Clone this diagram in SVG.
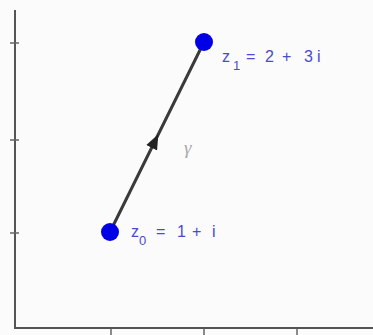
<svg xmlns="http://www.w3.org/2000/svg" width="373" height="335" viewBox="0 0 373 335">
<defs>
<style>
.axis{stroke:#555;stroke-width:2;fill:none}
.tick{stroke:#666;stroke-width:1.5}
.pt{fill:#0000e6}
.lbl{font-family:"Liberation Sans",Arial,sans-serif;font-size:16px;fill:#4a4ad0}
.sub{font-size:13px}
.edge{stroke:#3a3a3a;stroke-width:3;fill:none}
</style>
<marker id="mid" viewBox="0 0 10 10" refX="5" refY="5" markerWidth="5" markerHeight="5" orient="auto" markerUnits="strokeWidth">
<path d="M0,1 L10,5 L0,9 z" fill="#222"/>
</marker>
</defs>
<rect width="373" height="335" fill="#fbfbfb"/>
<g id="axes">
<path class="axis" d="M15,10 V328 H373"/>
<line class="tick" x1="10" y1="43" x2="19" y2="43"/>
<line class="tick" x1="10" y1="140" x2="19" y2="140"/>
<line class="tick" x1="10" y1="233" x2="19" y2="233"/>
<line class="tick" x1="111" y1="329" x2="111" y2="335"/>
<line class="tick" x1="204" y1="329" x2="204" y2="335"/>
<line class="tick" x1="297" y1="329" x2="297" y2="335"/>
</g>
<g id="connectors">
<path class="edge" d="M110,232 L155,141 L204,42" marker-mid="url(#mid)"/>
<text x="184" y="154" font-family="Liberation Serif,serif" font-size="19" font-style="italic" fill="#aaa">γ</text>
</g>
<g id="z0">
<circle class="pt" cx="110" cy="232" r="9"/>
<text class="lbl" y="237"><tspan x="131">z</tspan><tspan class="sub" x="139" y="245">0</tspan><tspan x="156" y="237">=</tspan><tspan x="177">1</tspan><tspan x="192">+</tspan><tspan x="212">i</tspan></text>
</g>
<g id="z1">
<circle class="pt" cx="204" cy="42" r="9"/>
<text class="lbl" y="62"><tspan x="222">z</tspan><tspan class="sub" x="233" y="70">1</tspan><tspan x="246" y="62">=</tspan><tspan x="265">2</tspan><tspan x="282">+</tspan><tspan x="304">3</tspan><tspan x="317">i</tspan></text>
</g>
</svg>
